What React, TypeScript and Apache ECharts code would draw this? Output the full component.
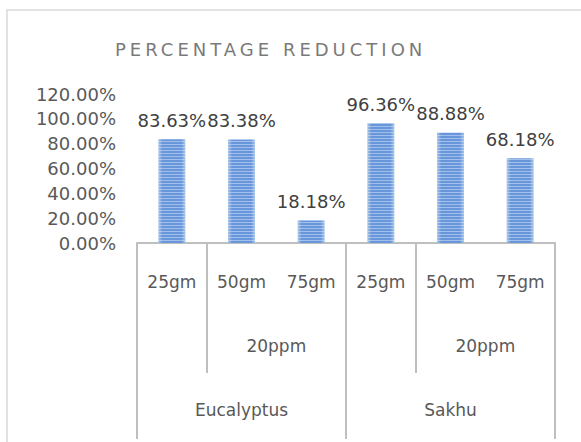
import React, { useEffect, useRef } from 'react';
import * as echarts from 'echarts';

const titleText = 'PERCENTAGE REDUCTION';
const doseLabels = ['25gm', '50gm', '75gm', '25gm', '50gm', '75gm'];
const concLabels = ['', '', '20ppm', '', '', '20ppm', ''];
const speciesLabels = ['Eucalyptus', 'Sakhu'];
const reduction = [83.63, 83.38, 18.18, 96.36, 88.88, 68.18];
const yMin = 0;
const yMax = 120;
const yInterval = 20;

export default function App() {
  const ref = useRef<HTMLDivElement>(null);
  useEffect(() => {
    const el = ref.current!;
    const chart = echarts.init(el, null, { renderer: 'svg' });
    const font = 'DejaVu Sans';
    const line = { color: '#bfbfbf', width: 2 };
    const lbl = { fontFamily: font, fontSize: 17, color: '#595959' };
    chart.setOption({
      animation: false,
      textStyle: { fontFamily: font },
      title: {
        text: titleText,
        left: 110,
        top: 35,
        textStyle: { fontFamily: font, fontSize: 18, fontWeight: 'normal', color: '#7a7a7a' },
      },
      graphic: [
        {
          type: 'rect',
          silent: true,
          shape: { x: 7, y: 10, width: 640, height: 480 },
          style: { fill: 'none', stroke: '#d9d9d9', lineWidth: 1.5 },
        },
      ],
      grid: { left: 137, right: 26, top: 94, bottom: 199 },
      yAxis: {
        type: 'value',
        min: yMin,
        max: yMax,
        interval: yInterval,
        axisLine: { show: false },
        axisTick: { show: false },
        splitLine: { show: false },
        axisLabel: { ...lbl, fontSize: 18, margin: 21, formatter: (v: number) => v.toFixed(2) + '%' },
      },
      xAxis: [
        {
          type: 'category',
          data: doseLabels,
          position: 'bottom',
          offset: 0,
          axisLine: { show: true, lineStyle: line },
          axisTick: { show: false },
          axisLabel: { ...lbl, interval: 0, margin: 30 },
        },
        {
          type: 'category',
          data: concLabels,
          boundaryGap: false,
          position: 'bottom',
          offset: 0,
          axisLine: { show: false },
          axisTick: {
            show: true,
            interval: (i: number) => i === 1 || i === 4,
            length: 130,
            lineStyle: line,
          },
          axisLabel: { ...lbl, interval: 0, margin: 94 },
        },
        {
          type: 'category',
          data: speciesLabels,
          boundaryGap: true,
          position: 'bottom',
          offset: 0,
          axisLine: { show: false },
          axisTick: { show: true, interval: 0, length: 196, lineStyle: line },
          axisLabel: { ...lbl, interval: 0, margin: 158 },
        },
      ],
      series: [
        {
          type: 'bar',
          xAxisIndex: 0,
          yAxisIndex: 0,
          data: reduction,
          barWidth: 27,
          itemStyle: {
            color: new echarts.graphic.LinearGradient(0, 0, 1, 0, [
              { offset: 0, color: '#a9c3e8' },
              { offset: 0.15, color: '#6797da' },
              { offset: 0.85, color: '#6797da' },
              { offset: 1, color: '#a9c3e8' },
            ]),
            decal: {
              symbol: 'rect',
              symbolSize: 1,
              dashArrayX: [1, 0],
              dashArrayY: [1, 2],
              rotation: 0,
              color: 'rgba(220,232,250,0.5)',
            },
          },
          label: {
            show: true,
            position: 'top',
            distance: 10,
            fontFamily: font,
            fontSize: 18,
            color: '#404040',
            formatter: (p: any) => (p.value as number).toFixed(2) + '%',
          },
        },
      ],
    });
    el.querySelectorAll('text').forEach((t) => {
      if (t.textContent === titleText) t.setAttribute('letter-spacing', '4');
    });
    return () => chart.dispose();
  }, []);
  return (
    <div
      ref={ref}
      style={{ position: 'fixed', left: 0, top: 0, width: 581, height: 442, background: '#fff' }}
    />
  );
}
